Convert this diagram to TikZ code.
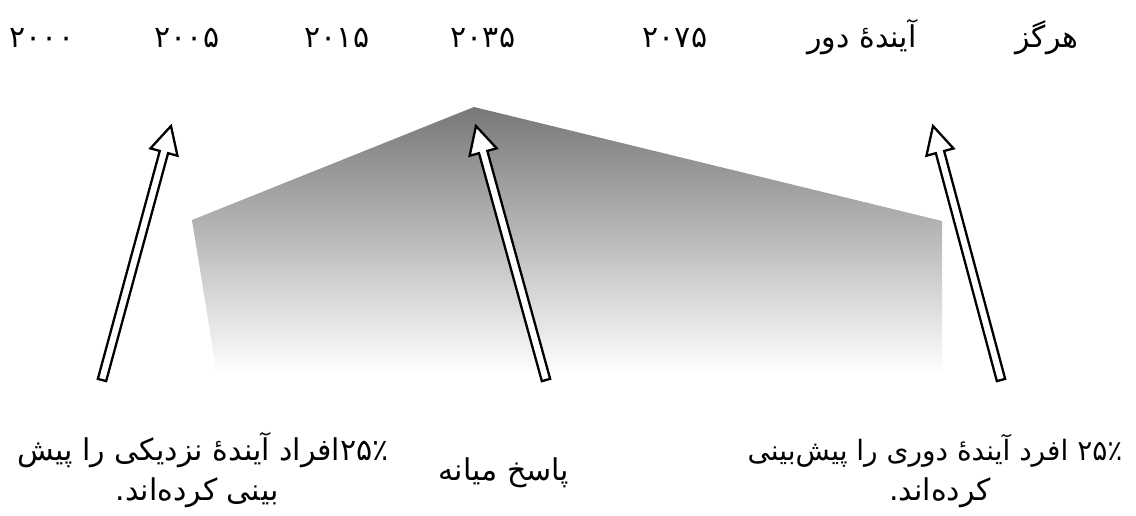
\documentclass[tikz,border=0pt]{standalone}
\usepackage{fontspec}
\TeXXeTstate=1
\newfontfamily\arabicfont[Script=Arabic]{DejaVu Sans}
\usetikzlibrary{calc}
\newcommand{\hollowarrow}[2]{%
  \coordinate (hb) at ($(#2)!27pt!(#1)$);
  \draw[hollow] ($(#1)!4.3pt!90:(#2)$) -- ($(hb)!4.3pt!90:(#2)$) -- ($(hb)!14pt!90:(#2)$) -- (#2)
    -- ($(hb)!14pt!-90:(#2)$) -- ($(hb)!4.3pt!-90:(#2)$) -- ($(#1)!4.3pt!-90:(#2)$) -- cycle;
}
\begin{document}
\begin{tikzpicture}[x=1pt,y=-1pt,
  lbl/.style={font=\arabicfont\fontsize{30}{36}\selectfont, inner sep=0pt, anchor=base},
  lblsmall/.style={lbl, font=\arabicfont\fontsize{28}{34}\selectfont},
  hollow/.style={draw=black, fill=white, line width=2.3pt, line join=miter}]
\useasboundingbox (0,0) rectangle (1136,515);
% gradient shape
\shade[top color=black!53, bottom color=white]
  (192,220) -- (474,107) -- (942,221) -- (942,375) -- (217,375) -- cycle;
% top labels
\node[lbl] (y2000) at (42,47) {۲۰۰۰};
\node[lbl] (y2005) at (187,47) {۲۰۰۵};
\node[lbl] (y2015) at (337,47) {۲۰۱۵};
\node[lbl] (y2035) at (483,47) {۲۰۳۵};
\node[lbl] (y2075) at (675,47) {۲۰۷۵};
\node[lbl] (far) at (862,47) {\beginR آینده^^^^0654 دور\endR};
\node[lbl] (never) at (1047,47) {\beginR هرگز\endR};
% arrows
\coordinate (t1) at (102,380);
\coordinate (h1) at (171,126);
\coordinate (t2) at (546,380);
\coordinate (h2) at (476,126);
\coordinate (t3) at (1001,380);
\coordinate (h3) at (933,126);
\hollowarrow{t1}{h1}
\hollowarrow{t2}{h2}
\hollowarrow{t3}{h3}
% bottom labels
\node[lbl] (near1) at (203,460) {\beginR\beginL ۲۵٪\endL افراد آینده^^^^0654 نزدیکی را پیش\endR};
\node[lbl] (near2) at (197,500) {\beginR بینی کرده^^^^200cاند.\endR};
\node[lbl] (mid) at (504,480) {\beginR پاسخ میانه\endR};
\node[lblsmall] (far1) at (935,460) {\beginR\beginL ۲۵٪\endL{} افرد آینده^^^^0654 دوری را پیش^^^^200cبینی\endR};
\node[lbl] (far2) at (940,500) {\beginR کرده^^^^200cاند.\endR};
\end{tikzpicture}
\end{document}
